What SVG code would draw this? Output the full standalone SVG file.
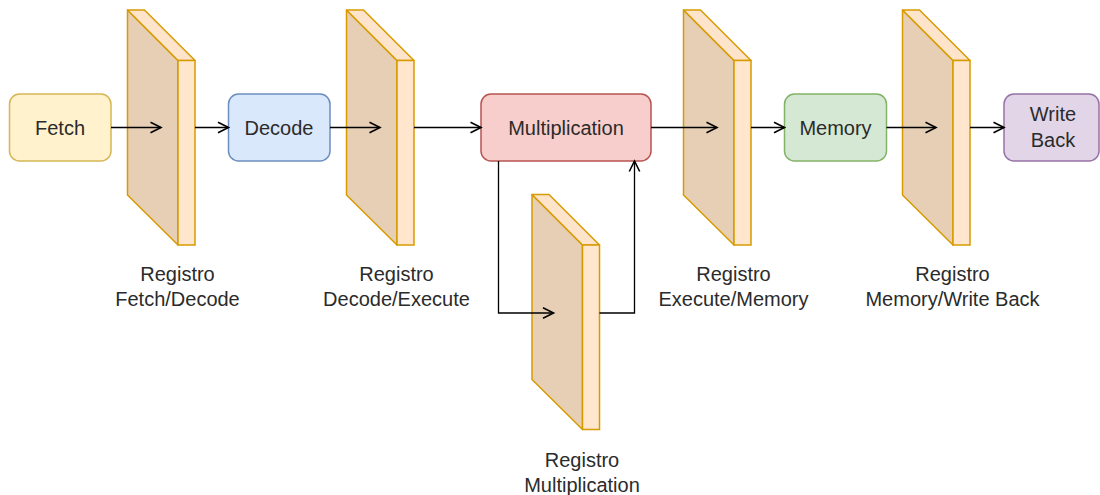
<svg xmlns="http://www.w3.org/2000/svg" width="1100" height="495" viewBox="0 0 1100 495">
<style>
.lbl{font-family:"Liberation Sans",Arial,sans-serif;font-size:20px;fill:#2b2b2b;text-anchor:middle}
.edge{fill:none;stroke:#000000;stroke-width:1.3}
.side{fill:#e6cfb4;stroke:#d79b00;stroke-width:1.5;stroke-linejoin:round}
.top{fill:#fde4ca;stroke:#d79b00;stroke-width:1.5;stroke-linejoin:round}
.front{fill:#ffe6cc;stroke:#d79b00;stroke-width:1.5}
</style>
<defs>
<marker id="arr" markerUnits="userSpaceOnUse" markerWidth="14" markerHeight="14" viewBox="0 0 14 14" refX="12" refY="7" orient="auto">
<path d="M1.5,1.8 L12,7 L1.5,12.2" fill="none" stroke="#000000" stroke-width="1.6"/>
</marker>
<g id="reg">
<polygon class="side" points="0,0 50.5,50.5 50.5,235 0,185"/>
<polygon class="top" points="0,0 17,0 67.5,50.5 50.5,50.5"/>
<rect class="front" x="50.5" y="50.5" width="17" height="184.5"/>
</g>
</defs>

<g id="fetch">
<rect x="9.5" y="94" width="101.5" height="67" rx="10" fill="#fff2cc" stroke="#d6b656" stroke-width="1.5"/>
<text class="lbl" x="60" y="134.5">Fetch</text>
</g>
<g id="reg-fetch-decode">
<use href="#reg" x="127.5" y="10"/>
<text class="lbl" x="177.5" y="281">Registro</text>
<text class="lbl" x="177.5" y="306">Fetch/Decode</text>
</g>
<g id="decode">
<rect x="228.5" y="94" width="101.5" height="67" rx="10" fill="#dae8fc" stroke="#6c8ebf" stroke-width="1.5"/>
<text class="lbl" x="279" y="134.5">Decode</text>
</g>
<g id="reg-decode-execute">
<use href="#reg" x="346.5" y="10"/>
<text class="lbl" x="396.5" y="281">Registro</text>
<text class="lbl" x="396.5" y="306">Decode/Execute</text>
</g>
<g id="multiplication">
<rect x="481" y="94" width="170" height="67" rx="10" fill="#f8cecc" stroke="#b85450" stroke-width="1.5"/>
<text class="lbl" x="566" y="134.5">Multiplication</text>
</g>
<g id="reg-multiplication">
<use href="#reg" x="532" y="194.5"/>
<text class="lbl" x="582" y="467">Registro</text>
<text class="lbl" x="582" y="492">Multiplication</text>
</g>
<g id="reg-execute-memory">
<use href="#reg" x="683.5" y="10"/>
<text class="lbl" x="733.5" y="281">Registro</text>
<text class="lbl" x="733.5" y="306">Execute/Memory</text>
</g>
<g id="memory">
<rect x="784.5" y="94" width="102" height="67" rx="10" fill="#d5e8d4" stroke="#82b366" stroke-width="1.5"/>
<text class="lbl" x="835.5" y="134.5">Memory</text>
</g>
<g id="reg-memory-writeback">
<use href="#reg" x="902.5" y="10"/>
<text class="lbl" x="952.5" y="281">Registro</text>
<text class="lbl" x="952.5" y="306">Memory/Write Back</text>
</g>
<g id="writeback">
<rect x="1004" y="94" width="95" height="67" rx="10" fill="#e1d5e7" stroke="#9673a6" stroke-width="1.5"/>
<text class="lbl" x="1053" y="121">Write</text>
<text class="lbl" x="1053" y="146.5">Back</text>
</g>

<g id="connectors">
<path class="edge" d="M111,127.5 H161" marker-end="url(#arr)"/>
<path class="edge" d="M195,127.5 H228.5" marker-end="url(#arr)"/>
<path class="edge" d="M330,127.5 H380" marker-end="url(#arr)"/>
<path class="edge" d="M414,127.5 H481" marker-end="url(#arr)"/>
<path class="edge" d="M651,127.5 H717" marker-end="url(#arr)"/>
<path class="edge" d="M751,127.5 H784.5" marker-end="url(#arr)"/>
<path class="edge" d="M886.5,127.5 H936" marker-end="url(#arr)"/>
<path class="edge" d="M970,127.5 H1004" marker-end="url(#arr)"/>
<path class="edge" d="M498.5,161 V313 H553.5" marker-end="url(#arr)"/>
<path class="edge" d="M599.5,313 H634.5 V161" marker-end="url(#arr)"/>
</g>
</svg>
